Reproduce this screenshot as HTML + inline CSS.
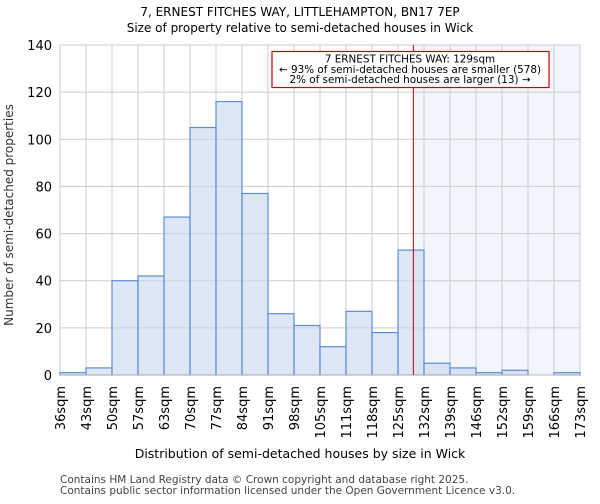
<!DOCTYPE html>
<html><head><meta charset="utf-8"><style>
body{margin:0;background:#fff;font-family:"DejaVu Sans","Liberation Sans",sans-serif}
svg text{font-family:"DejaVu Sans","Liberation Sans",sans-serif}
</style></head><body>
<svg id="c" width="600" height="500" xmlns="http://www.w3.org/2000/svg">
<text x="300" y="16" text-anchor="middle" font-size="12">7, ERNEST FITCHES WAY, LITTLEHAMPTON, BN17 7EP</text>
<text x="300" y="32" text-anchor="middle" font-size="12">Size of property relative to semi-detached houses in Wick</text>
<g id="plot"></g>
<text x="300" y="458" text-anchor="middle" font-size="12.5">Distribution of semi-detached houses by size in Wick</text>
<text transform="translate(13,215) rotate(-90)" text-anchor="middle" font-size="12" fill="#333">Number of semi-detached properties</text>
<text x="60" y="483" font-size="10.5" fill="#444">Contains HM Land Registry data © Crown copyright and database right 2025.</text>
<text x="60" y="494" font-size="10.5" fill="#444">Contains public sector information licensed under the Open Government Licence v3.0.</text>
</svg>
<script>
const tickLabels=["36sqm","43sqm","50sqm","57sqm","63sqm","70sqm","77sqm","84sqm","91sqm","98sqm","105sqm","111sqm","118sqm","125sqm","132sqm","139sqm","146sqm","152sqm","159sqm","166sqm","173sqm"];
const counts=[1,3,40,42,67,105,116,77,26,21,12,27,18,53,5,3,1,2,0,1];
const yTicks=[0,20,40,60,80,100,120,140];
const markerBin=13.59;
const annotationLines=["7 ERNEST FITCHES WAY: 129sqm","← 93% of semi-detached houses are smaller (578)","2% of semi-detached houses are larger (13) →"];
const NS="http://www.w3.org/2000/svg";
const L=60,R=580,T=45,B=375,yMax=140;
const n=counts.length,bw=(R-L)/n;
const x=i=>L+i*bw, y=v=>B-(v/yMax)*(B-T);
const g=document.getElementById('plot');
function mk(t,a){const e=document.createElementNS(NS,t);for(const k in a)e.setAttribute(k,a[k]);g.appendChild(e);return e;}
const mx=x(markerBin);
let e=mk('rect',{x:mx,y:T,width:R-mx,height:B-T,fill:'#f2f5fc'});


yTicks.forEach(v=>{let l=mk('line',{x1:L,x2:R,y1:y(v),y2:y(v),stroke:'#ccc'});


let t=mk('text',{x:L-8,y:y(v)+5,'text-anchor':'end','font-size':13});t.textContent=v;

});
tickLabels.forEach((s,i)=>{let l=mk('line',{x1:x(i),x2:x(i),y1:T,y2:B,stroke:'#ccc'});


let t=mk('text',{transform:`translate(${x(i)+4.8},386) rotate(-90)`,'text-anchor':'end','font-size':13});t.textContent=s;

});
counts.forEach((v,i)=>{if(v<=0)return;let r=mk('rect',{x:x(i),y:y(v),width:bw,height:B-y(v),fill:'rgba(200,215,238,0.6)',stroke:'#5b8ed6','stroke-width':1.2});

});
e=mk('line',{x1:L,x2:R,y1:B,y2:B,stroke:'#bbb'});


e=mk('line',{x1:mx,x2:mx,y1:T,y2:B,stroke:'#b00','stroke-width':1});


e=mk('rect',{x:272,y:51.5,width:277,height:36,fill:'#fff',stroke:'#c00','stroke-width':1.2});


annotationLines.forEach((s,i)=>{let t=mk('text',{x:410,y:62.5+i*10.3,'text-anchor':'middle','font-size':10.4});t.textContent=s;

});
</script>
</body></html>
